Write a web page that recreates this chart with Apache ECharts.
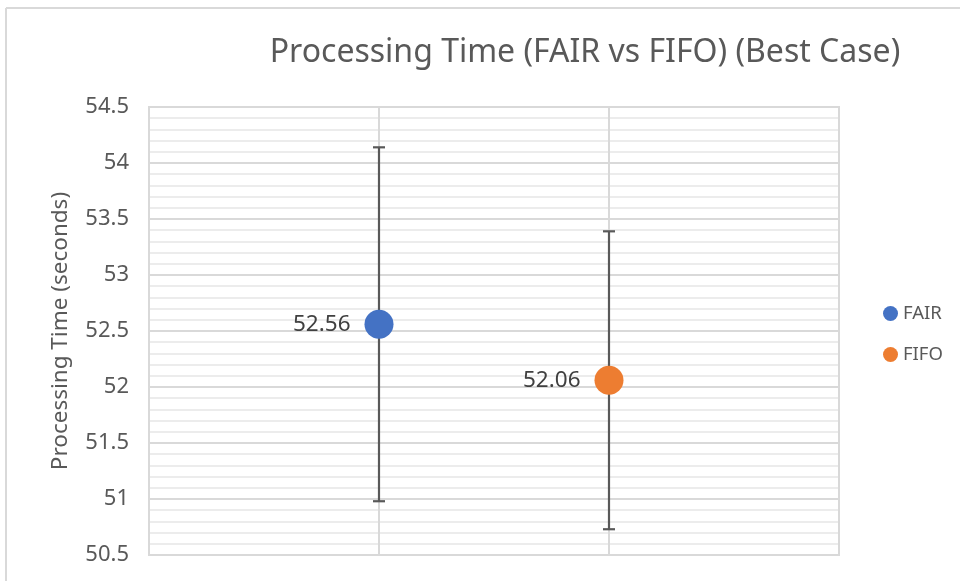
<!DOCTYPE html>
<html>
<head>
<meta charset="utf-8">
<script src="https://cdn.jsdelivr.net/npm/echarts@6/dist/echarts.min.js"></script>
<style>html,body{margin:0;padding:0;background:#fff;}#c{width:960px;height:581px;}</style>
</head>
<body>
<div id="c"></div>
<script>
var seriesNames = ['FAIR', 'FIFO'];
var xPositions = [1, 2];
var means = [52.56, 52.06];
var errors = [1.58, 1.33];
var colors = ['#4472C4', '#ED7D31'];
var yTicks = [50.5, 51, 51.5, 52, 52.5, 53, 53.5, 54, 54.5];

var FONT = 'Noto Sans';
var chart = echarts.init(document.getElementById('c'));

var series = [];
seriesNames.forEach(function (name, i) {
  series.push({
    name: name,
    type: 'scatter',
    data: [[xPositions[i], means[i]]],
    symbol: 'circle',
    symbolSize: 29,
    itemStyle: { color: colors[i], opacity: 1 },
    label: { show: true, position: 'left', distance: 14, color: '#404040', fontFamily: FONT, fontSize: 22.5,
      formatter: function (p) { return p.value[1].toFixed(2); } },
    emphasis: { disabled: true },
    z: 5
  });
});
series.push({
  type: 'custom',
  name: 'err',
  data: seriesNames.map(function (n, i) { return [xPositions[i], means[i] + errors[i], means[i] - errors[i]]; }),
  renderItem: function (params, api) {
    var top = api.coord([api.value(0), api.value(1)]);
    var bot = api.coord([api.value(0), api.value(2)]);
    var w = 6;
    var st = { stroke: '#595959', lineWidth: 2.2 };
    return { type: 'group', children: [
      { type: 'line', shape: { x1: top[0], y1: top[1], x2: bot[0], y2: bot[1] }, style: st },
      { type: 'line', shape: { x1: top[0] - w, y1: top[1], x2: top[0] + w, y2: top[1] }, style: st },
      { type: 'line', shape: { x1: bot[0] - w, y1: bot[1], x2: bot[0] + w, y2: bot[1] }, style: st }
    ]};
  },
  z: 3,
  silent: true
});

chart.setOption({
  animation: false,
  title: {
    text: 'Processing Time (FAIR vs FIFO) (Best Case)',
    left: 580, top: 32, textAlign: 'center',
    textStyle: { fontFamily: FONT, fontSize: 32, fontWeight: 'normal', color: '#595959' }
  },
  legend: {
    data: seriesNames,
    orient: 'vertical',
    left: 878, top: 299,
    itemWidth: 15, itemHeight: 15, itemGap: 22,
    icon: 'circle',
    textStyle: { fontFamily: FONT, fontSize: 18.5, color: '#595959' }
  },
  grid: { left: 149, right: 121, top: 107, bottom: 26, show: true, borderColor: '#d9d9d9', borderWidth: 2, backgroundColor: 'transparent' },
  xAxis: {
    type: 'value', min: 0, max: 3, interval: 1,
    axisLine: { show: false }, axisTick: { show: false }, axisLabel: { show: false },
    splitLine: { show: true, lineStyle: { color: '#d9d9d9', width: 2 } }
  },
  yAxis: {
    type: 'value', min: 50.5, max: 54.5, interval: 0.5,
    name: 'Processing Time (seconds)', nameLocation: 'middle', nameGap: 77,
    nameTextStyle: { fontFamily: FONT, fontSize: 22.5, color: '#595959' },
    axisLine: { show: false }, axisTick: { show: false },
    axisLabel: { fontFamily: FONT, fontSize: 22, color: '#595959', margin: 20,
      formatter: function (v) { return yTicks.indexOf(v) >= 0 ? String(v) : ''; } },
    splitLine: { show: true, lineStyle: { color: '#d9d9d9', width: 2 } },
    minorTick: { show: false, splitNumber: 5 },
    minorSplitLine: { show: true, lineStyle: { color: '#ececec', width: 2 } }
  },
  graphic: [
    { type: 'line', shape: { x1: 6, y1: 8, x2: 960, y2: 8 }, style: { stroke: '#d9d9d9', lineWidth: 2 }, silent: true },
    { type: 'line', shape: { x1: 6, y1: 8, x2: 6, y2: 581 }, style: { stroke: '#d9d9d9', lineWidth: 2 }, silent: true }
  ],
  series: series
});
</script>
</body>
</html>
